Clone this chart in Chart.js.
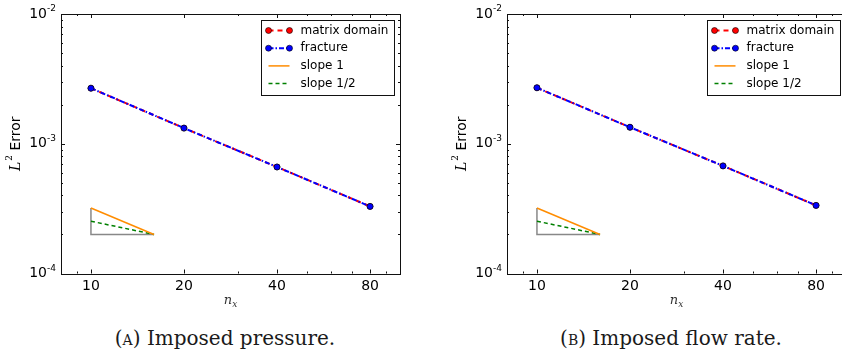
<!DOCTYPE html>
<html>
<head>
<meta charset="utf-8">
<script src="https://cdn.jsdelivr.net/npm/chart.js@4.4.1/dist/chart.umd.min.js"></script>
<style>
  html, body { margin: 0; padding: 0; background: #fff; }
  body { position: relative; width: 842px; height: 356px; overflow: hidden; }
  .panel { position: absolute; top: 0; width: 430px; height: 312px; }
  .caption {
    position: absolute; top: 338px; transform: translate(-50%, -50%);
    font-family: "DejaVu Serif", serif; font-size: 20px; line-height: 1; color: #1a1a1a; white-space: nowrap;
  }
  .sc { font-variant: small-caps; }
</style>
</head>
<body>
<div class="panel" style="left:0"><canvas id="chartA" width="430" height="312"></canvas></div>
<div class="panel" style="left:446px"><canvas id="chartB" width="430" height="312"></canvas></div>
<div class="caption" style="left:225px">(<span class="sc">a</span>) Imposed pressure.</div>
<div class="caption" style="left:671px">(<span class="sc">b</span>) Imposed flow rate.</div>

<script>
// data
const nx = [10, 20, 40, 80];
const matrixErrA = [2.68e-3, 1.32e-3, 6.62e-4, 3.29e-4];
const fractureErrA = [2.68e-3, 1.32e-3, 6.62e-4, 3.29e-4];
const matrixErrB = [2.70e-3, 1.34e-3, 6.75e-4, 3.35e-4];
const fractureErrB = [2.70e-3, 1.34e-3, 6.75e-4, 3.35e-4];

// slope triangle
const slopeX = [10, 16];
const slope1Y = [3.2e-4, 2.0e-4];
const slopeHalfY = [2.53e-4, 2.0e-4];
const triangleX = [10, 10, 16];
const triangleY = [3.2e-4, 2.0e-4, 2.0e-4];

const seriesLabels = ['matrix domain', 'fracture', 'slope 1', 'slope 1/2'];

const xTicks = [10, 20, 40, 80];
const xTickLabels = ['10', '20', '40', '80'];
const xMinorTicks = [9, 30, 50, 60, 70, 90];
const yTicks = [1e-4, 1e-3, 1e-2];
const yTickExps = ['-4', '-3', '-2'];

const yMinorTicks = [];
[1e-4, 1e-3].forEach(d => { for (let m = 2; m <= 9; m++) yMinorTicks.push(m * d); });

// ---------- frame, inward ticks, labels, legend ----------
const decorations = {
    id: 'decorations',
    afterDatasetsDraw(chart) {
        const { ctx, chartArea: a } = chart;
        const x = chart.scales.x, y = chart.scales.y;
        ctx.save();
        ctx.strokeStyle = '#111';
        ctx.lineWidth = 1;

        const tick = (x1, y1, x2, y2) => {
            ctx.beginPath();
            ctx.moveTo(x1, y1);
            ctx.lineTo(x2, y2);
            ctx.stroke();
        };
        xTicks.forEach(v => {
            const px = Math.round(x.getPixelForValue(v)) + 0.5;
            tick(px, a.bottom, px, a.bottom - 4);
            tick(px, a.top, px, a.top + 4);
        });
        xMinorTicks.forEach(v => {
            const px = Math.round(x.getPixelForValue(v)) + 0.5;
            tick(px, a.bottom, px, a.bottom - 2);
            tick(px, a.top, px, a.top + 2);
        });
        yTicks.forEach(v => {
            const py = Math.round(y.getPixelForValue(v)) + 0.5;
            tick(a.left, py, a.left + 4, py);
            tick(a.right, py, a.right - 4, py);
        });
        yMinorTicks.forEach(v => {
            const py = Math.round(y.getPixelForValue(v)) + 0.5;
            tick(a.left, py, a.left + 2, py);
            tick(a.right, py, a.right - 2, py);
        });

        ctx.strokeRect(Math.round(a.left) + 0.5, Math.round(a.top) + 0.5,
            Math.round(a.right - a.left), Math.round(a.bottom - a.top));

        // y tick labels with superscripts
        ctx.fillStyle = '#000';
        ctx.textBaseline = 'middle';
        yTicks.forEach((v, i) => {
            const py = y.getPixelForValue(v);
            ctx.font = '9px "DejaVu Sans"';
            const ew = ctx.measureText(yTickExps[i]).width;
            const right = a.left - 5;
            ctx.textAlign = 'right';
            ctx.fillText(yTickExps[i], right, py - 5);
            ctx.font = '14px "DejaVu Sans"';
            ctx.fillText('10', right - ew, py);
        });

        // x title  n_x
        const cx = (a.left + a.right) / 2;
        ctx.fillStyle = '#333';
        ctx.textAlign = 'left';
        ctx.font = 'italic 13px "DejaVu Serif"';
        const nw = ctx.measureText('n').width;
        ctx.font = 'italic 9px "DejaVu Serif"';
        const xw = ctx.measureText('x').width;
        const sx = cx - (nw + xw) / 2;
        ctx.font = 'italic 13px "DejaVu Serif"';
        ctx.fillText('n', sx, 301);
        ctx.font = 'italic 9px "DejaVu Serif"';
        ctx.fillText('x', sx + nw, 305);

        // y title  L^2 Error
        ctx.save();
        ctx.translate(16, (a.top + a.bottom) / 2);
        ctx.rotate(-Math.PI / 2);
        ctx.fillStyle = '#000';
        ctx.font = 'italic 14px "DejaVu Serif"';
        const lw = ctx.measureText('L').width;
        ctx.font = '9px "DejaVu Serif"';
        const tw = ctx.measureText('2').width;
        ctx.font = '14px "DejaVu Sans"';
        const ewd = ctx.measureText(' Error').width;
        let ox = -(lw + tw + 1 + ewd) / 2;
        ctx.font = 'italic 14px "DejaVu Serif"';
        ctx.fillText('L', ox, 0);
        ctx.font = '9px "DejaVu Serif"';
        ctx.fillText('2', ox + lw + 1, -6);
        ctx.font = '14px "DejaVu Sans"';
        ctx.fillText(' Error', ox + lw + tw + 1, 0);
        ctx.restore();

        // legend
        const bw = 133, bh = 75;
        const bx = Math.round(a.right - 6 - bw) + 0.5, by = Math.round(a.top + 6) + 0.5;
        ctx.fillStyle = '#fff';
        ctx.fillRect(bx, by, bw, bh);
        ctx.strokeStyle = '#111';
        ctx.lineWidth = 1;
        ctx.strokeRect(bx, by, bw, bh);
        chart.data.datasets.forEach((ds, i) => {
            if (!ds.label) return;
            const ry = by + 10 + i * 17.7;
            const x1 = bx + 7, x2 = bx + 28;
            ctx.save();
            ctx.strokeStyle = ds.borderColor;
            ctx.lineWidth = ds.borderWidth;
            ctx.setLineDash(ds.borderDash || []);
            ctx.beginPath();
            ctx.moveTo(x1, ry);
            ctx.lineTo(x2, ry);
            ctx.stroke();
            ctx.restore();
            if (ds.pointRadius > 0) {
                [x1, x2].forEach(px => {
                    ctx.beginPath();
                    ctx.arc(px, ry, ds.pointRadius, 0, Math.PI * 2);
                    ctx.fillStyle = ds.pointBackgroundColor;
                    ctx.fill();
                    ctx.lineWidth = ds.pointBorderWidth;
                    ctx.strokeStyle = ds.pointBorderColor;
                    ctx.stroke();
                });
            }
            ctx.fillStyle = '#000';
            ctx.font = '12px "DejaVu Sans"';
            ctx.textAlign = 'left';
            ctx.textBaseline = 'middle';
            ctx.fillText(ds.label, bx + 39, ry);
        });
        ctx.restore();
    }
};

function makeChart(id, matrixErr, fractureErr) {
    const pts = (xs, ys) => xs.map((v, i) => ({ x: v, y: ys[i] }));
    return new Chart(document.getElementById(id), {
        type: 'scatter',
        data: {
            datasets: [{
                label: seriesLabels[0],
                data: pts(nx, matrixErr),
                showLine: true,
                borderColor: '#ff0000',
                borderWidth: 2,
                borderDash: [5, 4],
                pointRadius: 3,
                pointBackgroundColor: '#ff0000',
                pointBorderColor: '#000',
                pointBorderWidth: 0.6,
                order: 2
            }, {
                label: seriesLabels[1],
                data: pts(nx, fractureErr),
                showLine: true,
                borderColor: '#0000ff',
                borderWidth: 2,
                borderDash: [5, 2, 1.5, 2],
                pointRadius: 3,
                pointBackgroundColor: '#0000ff',
                pointBorderColor: '#000',
                pointBorderWidth: 0.6,
                order: 1
            }, {
                label: seriesLabels[2],
                data: pts(slopeX, slope1Y),
                showLine: true,
                borderColor: '#ff8c00',
                borderWidth: 1.5,
                pointRadius: 0,
                order: 3
            }, {
                label: seriesLabels[3],
                data: pts(slopeX, slopeHalfY),
                showLine: true,
                borderColor: '#008000',
                borderWidth: 1.5,
                borderDash: [4, 3],
                pointRadius: 0,
                order: 4
            }, {
                label: '',
                data: pts(triangleX, triangleY),
                showLine: true,
                borderColor: '#888888',
                borderWidth: 1.5,
                pointRadius: 0,
                order: 5
            }]
        },
        options: {
            responsive: false,
            animation: false,
            events: [],
            layout: { padding: { left: 0, top: 14, right: 30, bottom: 0 } },
            plugins: { legend: { display: false }, tooltip: { enabled: false } },
            scales: {
                x: {
                    type: 'logarithmic',
                    min: 8,
                    max: 100,
                    grid: { display: false, drawTicks: false },
                    border: { display: false },
                    afterBuildTicks: s => { s.ticks = xTicks.map(v => ({ value: v })); },
                    afterFit: s => { s.height = 38.5; },
                    ticks: {
                        autoSkip: false,
                        maxRotation: 0,
                        padding: 4,
                        color: '#000',
                        font: { family: 'DejaVu Sans', size: 14 },
                        callback: (v, i) => xTickLabels[i]
                    }
                },
                y: {
                    type: 'logarithmic',
                    min: 1e-4,
                    max: 1e-2,
                    grid: { display: false, drawTicks: false },
                    border: { display: false },
                    afterBuildTicks: s => { s.ticks = yTicks.map(v => ({ value: v })); },
                    afterFit: s => { s.width = 61; },
                    ticks: { display: false }
                }
            }
        },
        plugins: [decorations]
    });
}

makeChart('chartA', matrixErrA, fractureErrA);
makeChart('chartB', matrixErrB, fractureErrB);
</script>
</body>
</html>
